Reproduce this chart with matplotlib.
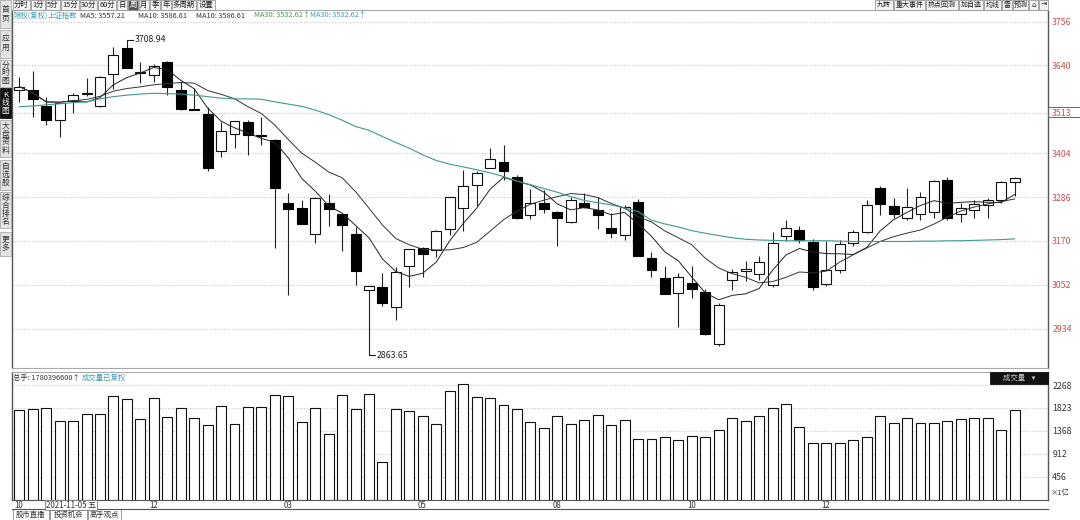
import matplotlib
matplotlib.use('Agg')
import matplotlib.pyplot as plt
import numpy as np
import pandas as pd
from matplotlib.patches import Rectangle
from matplotlib.transforms import blended_transform_factory

plt.rcParams['font.family'] = ['Noto Sans CJK SC', 'DejaVu Sans']

# ---------------- data ----------------
opens = [3574, 3574, 3531, 3494, 3545, 3564, 3531, 3617, 3686, 3620,
         3614, 3649, 3574, 3523, 3509, 3410, 3455, 3489, 3452, 3440,
         3272, 3257, 3187, 3270, 3241, 3187, 3037, 3047, 2993, 3102,
         3150, 3145, 3201, 3258, 3319, 3366, 3382, 3342, 3239, 3270,
         3248, 3219, 3270, 3252, 3203, 3185, 3275, 3125, 3069, 3029,
         3058, 3033, 2893, 3065, 3088, 3081, 3051, 3183, 3199, 3167,
         3054, 3092, 3164, 3194, 3311, 3263, 3231, 3242, 3247, 3333,
         3241, 3252, 3266, 3279, 3327]
closes = [3583, 3549, 3494, 3538, 3561, 3566, 3608, 3667, 3634, 3622,
          3639, 3581, 3523, 3521, 3364, 3463, 3491, 3453, 3450, 3312,
          3254, 3215, 3284, 3254, 3212, 3090, 3048, 3002, 3085, 3147,
          3134, 3197, 3286, 3317, 3351, 3388, 3358, 3230, 3270, 3255,
          3230, 3279, 3260, 3239, 3190, 3261, 3129, 3092, 3027, 3072,
          3042, 2920, 2998, 3086, 3093, 3113, 3164, 3204, 3172, 3046,
          3092, 3161, 3194, 3266, 3268, 3242, 3260, 3287, 3330, 3231,
          3257, 3268, 3279, 3327, 3338]
highs = [3609, 3625, 3554, 3541, 3566, 3605, 3610, 3690, 3708.94, 3650,
         3643, 3652, 3596, 3578, 3529, 3489, 3492, 3494, 3501, 3442,
         3299, 3279, 3286, 3294, 3242, 3207, 3050, 3083, 3100, 3148,
         3154, 3199, 3287, 3359, 3358, 3419, 3426, 3345, 3309, 3306,
         3250, 3288, 3297, 3286, 3243, 3266, 3281, 3141, 3102, 3084,
         3102, 3040, 3003, 3095, 3115, 3130, 3193, 3225, 3210, 3175,
         3170, 3172, 3200, 3280, 3316, 3285, 3311, 3300, 3332, 3340,
         3270, 3280, 3285, 3330, 3340]
lows = [3542, 3502, 3480, 3449, 3513, 3557, 3527, 3576, 3632, 3592,
        3596, 3560, 3520, 3519, 3358, 3393, 3418, 3401, 3426, 3150,
        3025, 3214, 3163, 3209, 3143, 3051, 2863.65, 2995, 2959, 3047,
        3074, 3127, 3185, 3197, 3264, 3365, 3333, 3228, 3227, 3243,
        3156, 3218, 3258, 3201, 3177, 3172, 3128, 3074, 3026, 2938,
        3016, 2918, 2887, 3038, 3062, 3065, 3046, 3170, 3165, 3038,
        3050, 3083, 3155, 3190, 3240, 3230, 3225, 3225, 3232, 3225,
        3220, 3230, 3230, 3270, 3290]
ma30 = [3529, 3531, 3534, 3537, 3540, 3542, 3550, 3556, 3560, 3563,
        3565, 3564, 3563, 3560, 3556, 3552, 3550, 3550, 3549, 3542,
        3536, 3530, 3520, 3508, 3493, 3476, 3466, 3449, 3433, 3418,
        3400, 3385, 3375, 3368, 3360, 3352, 3342, 3330, 3320, 3310,
        3300, 3288, 3278, 3272, 3266, 3258, 3248, 3225, 3215, 3207,
        3197, 3190, 3184, 3178, 3174, 3172, 3171, 3170, 3170, 3170,
        3170, 3169, 3168, 3168, 3168, 3168, 3168, 3169, 3169, 3170,
        3170, 3171, 3172, 3173, 3175]
vols = [1775, 1795, 1815, 1558, 1558, 1696, 1696, 2051, 1992, 1598,
        2012, 1637, 1815, 1617, 1479, 1854, 1499, 1834, 1834, 2071,
        2051, 1538, 1815, 1302, 2071, 1795, 2091, 750, 1795, 1755,
        1657, 1499, 2150, 2288, 2032, 2012, 1874, 1795, 1538, 1420,
        1657, 1499, 1578, 1677, 1479, 1578, 1203, 1203, 1243, 1183,
        1262, 1243, 1381, 1617, 1558, 1657, 1815, 1893, 1440, 1124,
        1124, 1124, 1183, 1243, 1657, 1519, 1617, 1519, 1519, 1558,
        1598, 1617, 1617, 1381, 1780]
price_ticks = [3756, 3640, 3513, 3404, 3286, 3170, 3052, 2934]
vol_ticks = [456, 912, 1368, 1823, 2268]
date_idx = [0, 10, 20, 30, 40, 50, 60]
date_labels = ['10', '12', '03', '05', '08', '10', '12']
top_buttons = ['分时', '1分', '5分', '15分', '30分', '60分', '日', '周', '月', '季', '年', '多周期', '设置']
right_buttons = ['九转', '重大事件', '热点回测', '加自选', '均线', '雷', '预测']
side_tabs = ['首页', '应用', '分时图', 'K线图', '大盘资料', '自选股', '综合排名', '更多']
bottom_tabs = ['股市直播', '投资机会', '高手观点']

# ---------------- figure ----------------
W, H = 1080, 520
fig = plt.figure(figsize=(10.8, 5.2), dpi=100)
fig.patch.set_facecolor('white')

def fx(x): return x / W
def fy(y): return 1 - y / H

n = len(closes)
xs = np.arange(n)
o = np.array(opens); c = np.array(closes); h = np.array(highs); l = np.array(lows)
ma5 = pd.Series(closes).rolling(5, min_periods=1).mean()
ma10 = pd.Series(closes).rolling(10, min_periods=1).mean()

XL = (-0.543, 76.48)
FS = 6.3
SFS = 5.3

# price axes
ax = fig.add_axes([fx(12), fy(368), (1048 - 12) / W, (368 - 10) / H])
ax.set_xlim(*XL)
ax.set_ylim(2829.1, 3788.1)
ax.vlines(xs, l, h, color='#222222', lw=0.8, zorder=2)
up = c >= o
bw = 0.74
ax.bar(xs[up], (c - o)[up], bottom=o[up], width=bw, facecolor='white',
       edgecolor='#111111', lw=0.8, zorder=3)
ax.bar(xs[~up], (o - c)[~up], bottom=c[~up], width=bw, facecolor='black',
       edgecolor='black', lw=0.8, zorder=3)
ax.plot(xs, ma5, color='#222222', lw=0.7, zorder=4)
ax.plot(xs, ma10, color='#333333', lw=0.7, zorder=4)
ax.plot(xs, ma30, color='#3f9a8c', lw=0.8, zorder=4)

# extreme labels
ih = int(np.argmax(h)); il = int(np.argmin(l))
ax.plot([ih, ih + 0.45], [h[ih], h[ih]], color='#222222', lw=0.8)
ax.text(ih + 0.55, h[ih], f'{h[ih]:.2f}', fontsize=FS, va='center', ha='left', color='#222222')
ax.plot([il, il + 0.45], [l[il], l[il]], color='#222222', lw=0.8)
ax.text(il + 0.55, l[il], f'{l[il]:.2f}', fontsize=FS, va='center', ha='left', color='#222222')

ax.yaxis.tick_right()
ax.set_yticks(price_ticks)
ax.set_yticklabels([str(t) for t in price_ticks], fontsize=FS, color='#c0504d')
ax.tick_params(axis='y', length=0, pad=3)
ax.set_xticks([])
ax.grid(axis='y', linestyle=(0, (1, 1.5)), color='#c8c8c8', lw=0.8)
for s in ['left', 'right']:
    ax.spines[s].set_color('#555555'); ax.spines[s].set_linewidth(1.0)
ax.spines['top'].set_color('#aaaaaa'); ax.spines['top'].set_linewidth(0.8)
ax.spines['bottom'].set_color('#aaaaaa'); ax.spines['bottom'].set_linewidth(0.8)
ax.set_axisbelow(True)

# box around 3513 label
fig.add_artist(Rectangle((fx(1048), fy(117)), (1080 - 1048) / W, 10 / H, transform=fig.transFigure,
                         facecolor='none', edgecolor='#666666', lw=0.7))

# volume axes
av = fig.add_axes([fx(12), fy(500), (1048 - 12) / W, (500 - 372) / H])
av.set_xlim(*XL)
av.set_ylim(0, 2524.7)
av.bar(xs, vols, width=bw, facecolor='white', edgecolor='#111111', lw=0.8, zorder=3)
av.yaxis.tick_right()
av.set_yticks(vol_ticks)
av.set_yticklabels([str(t) for t in vol_ticks], fontsize=FS, color='#333333')
av.tick_params(axis='y', length=0, pad=3)
av.set_xticks([])
av.grid(axis='y', linestyle=(0, (1, 1.5)), color='#c8c8c8', lw=0.8)
for s in ['left', 'right']:
    av.spines[s].set_color('#555555'); av.spines[s].set_linewidth(1.0)
av.spines['top'].set_color('#aaaaaa'); av.spines['top'].set_linewidth(0.8)
av.spines['bottom'].set_color('#555555'); av.spines['bottom'].set_linewidth(0.8)
av.set_axisbelow(True)
av.text(1.003, 0.02, '×1亿', transform=av.transAxes, fontsize=5.3, color='#333333', ha='left', va='bottom')

# date labels
tr = blended_transform_factory(av.transData, fig.transFigure)
for i, lab in zip(date_idx, date_labels):
    av.text(i - 0.35, fy(505), lab, transform=tr, fontsize=SFS + 0.4, ha='left', va='center', color='#333333')
fig.text(fx(46), fy(505), '2021-11-05 五', fontsize=SFS + 0.4, ha='left', va='center', color='#333333',
         bbox=dict(boxstyle='square,pad=0.12', facecolor='white', edgecolor='#777777', lw=0.6))

# ------------- chrome -------------
def button(x0, x1, y0, y1, text, fc='#f3f3f3', tc='#222222', ec='#999999', vertical=False, fs=SFS):
    fig.add_artist(Rectangle((fx(x0), fy(y1)), (x1 - x0) / W, (y1 - y0) / H,
                             transform=fig.transFigure, facecolor=fc, edgecolor=ec, lw=0.6))
    t = '\n'.join(text) if vertical else text
    fig.text(fx((x0 + x1) / 2), fy((y0 + y1) / 2), t, fontsize=fs, ha='center', va='center',
             color=tc, linespacing=1.0)

# top toolbar
top_x = [(13, 30), (31, 45), (46, 60), (61, 79), (80, 97), (98, 116), (117, 127), (128, 138),
         (139, 149), (150, 160), (161, 171), (172, 196), (197, 215)]
for (x0, x1), t in zip(top_x, top_buttons):
    if t == '周':
        button(x0, x1, 0, 10, t, fc='#555555', tc='white')
    else:
        button(x0, x1, 0, 10, t)

right_x = [(875, 893), (894, 925), (926, 958), (959, 983), (984, 1001), (1002, 1012), (1013, 1028)]
for (x0, x1), t in zip(right_x, right_buttons):
    button(x0, x1, 0, 10, t, fs=5.0)
button(1029, 1038, 0, 10, '⌂', fs=5.3)
button(1039, 1048, 0, 10, '⇥', fs=5.3)

# legend row
leg = [(13, '除权(复权)', '#3f9ab0'), (48, '上证指数', '#3f9ab0'), (80, 'MA5: 3557.21', '#333333'),
       (138, 'MA10: 3586.61', '#333333'), (196, 'MA10: 3586.61', '#333333'),
       (254, 'MA30: 3532.62↑', '#4a9a5a'), (310, 'MA30: 3532.62↑', '#3fa0a8')]
for x0, t, col in leg:
    fig.text(fx(x0), fy(15.5), t, fontsize=SFS, ha='left', va='center', color=col)

# sidebar
side_y = [(0, 28), (30, 58), (60, 87), (88, 118), (120, 157), (160, 190), (192, 228), (232, 256)]
for (y0, y1), t in zip(side_y, side_tabs):
    if t == 'K线图':
        button(0, 11, y0, y1, t, fc='#111111', tc='white', ec='#111111', vertical=True, fs=5.6)
    else:
        button(0, 11, y0, y1, t, fc='#e4e4e4', tc='#333333', ec='#aaaaaa', vertical=True, fs=5.6)

# volume header
fig.text(fx(13), fy(378), '总手: 1780396600↑', fontsize=SFS, ha='left', va='center', color='#333333')
fig.text(fx(82), fy(378), '成交量已复权', fontsize=SFS, ha='left', va='center', color='#3f9ab0')
button(990, 1048, 372, 384, '成交量    ▾', fc='#111111', tc='#cccccc', ec='#111111', fs=5.3)

# bottom tabs
fig.add_artist(plt.Line2D([fx(12), fx(1048)], [fy(509), fy(509)], transform=fig.transFigure,
                          color='#555555', lw=0.8))
bt_x = [(13, 49), (50, 87), (88, 121)]
for (x0, x1), t in zip(bt_x, bottom_tabs):
    button(x0, x1, 509, 520, t, fc='white', tc='#333333', ec='#888888')

fig.savefig('out.png', dpi=100)
